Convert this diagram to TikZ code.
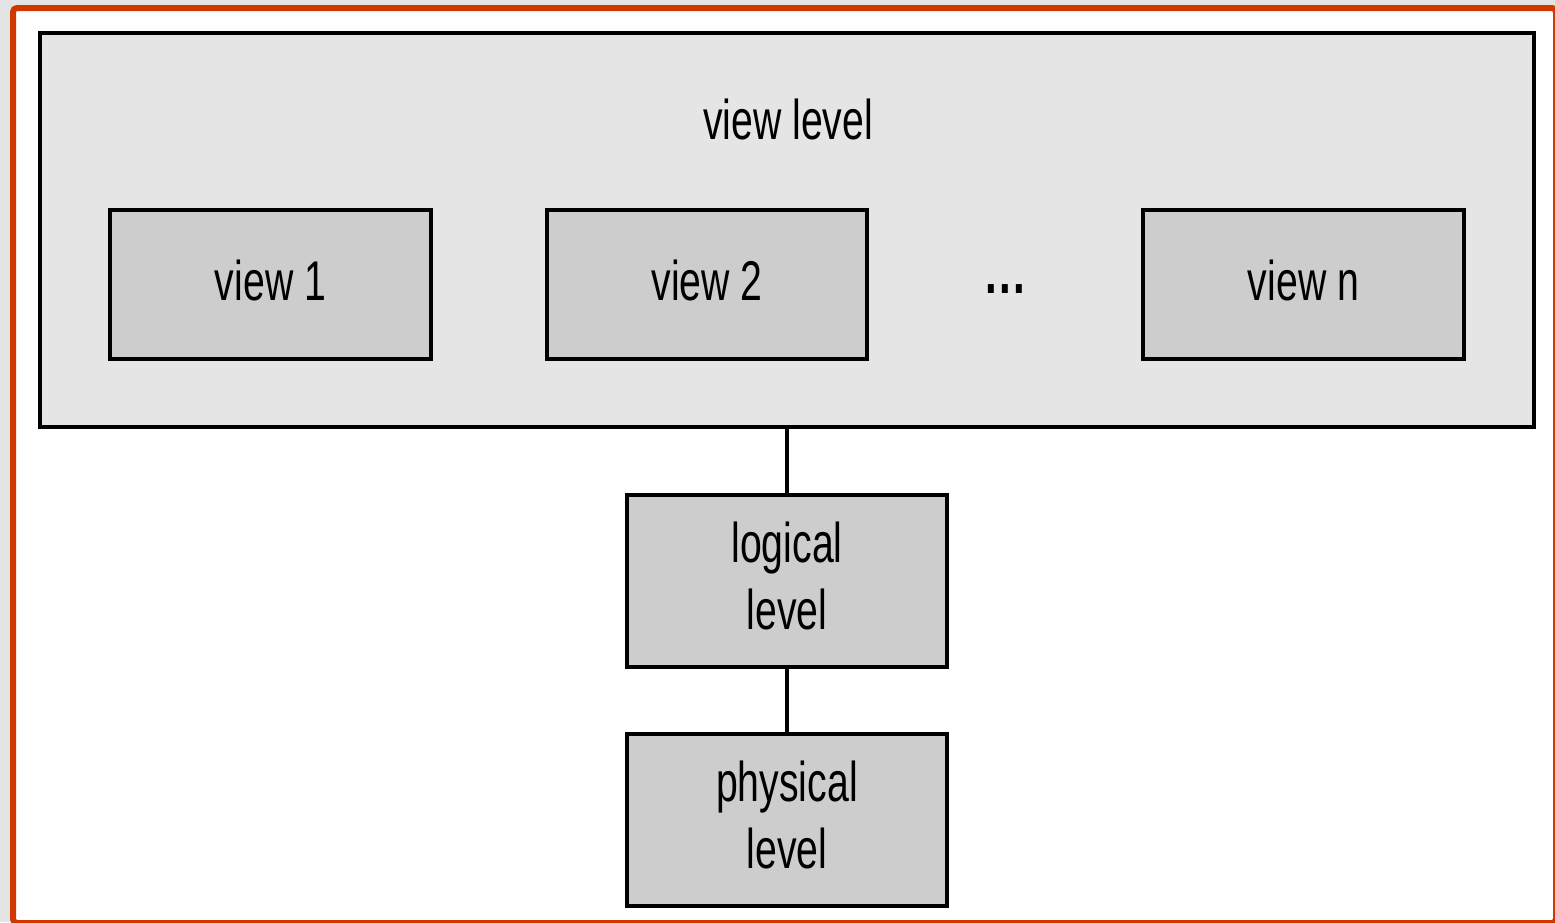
\documentclass[tikz,border=0pt]{standalone}
\usepackage{fontspec}
\newfontfamily\condfont[FakeStretch=0.7]{Liberation Sans}
\definecolor{framec}{RGB}{208,56,0}
\definecolor{outbg}{RGB}{228,228,228}
\definecolor{levelbg}{RGB}{230,229,230}
\definecolor{boxbg}{RGB}{205,205,205}
\begin{document}
\begin{tikzpicture}[x=1pt,y=-1pt,
  lvlbox/.style={draw=black,line width=4pt,fill=boxbg,inner sep=0pt,
    font=\condfont\fontsize{56}{67}\selectfont,align=center},
  link/.style={draw=black,line width=4pt}]
\useasboundingbox (0,0) rectangle (1555,922);
\clip (0,0) rectangle (1555,922);
\fill[outbg] (0,0) rectangle (1555,922);
\draw[framec,fill=white,line width=6pt,rounded corners=4pt] (13,8) rectangle (1556,923);
% view level container
\node[draw=black,line width=4pt,fill=levelbg,minimum width=1494pt,minimum height=394pt,inner sep=0pt] (vl) at (787,230) {};
\node[font=\condfont\fontsize{56}{67}\selectfont,anchor=base,inner sep=0pt] (vltext) at (788,139) {view level};
\node[lvlbox,minimum width=321pt,minimum height=149pt,text depth=9pt] (v1) at (270.5,284.5) {view 1};
\node[lvlbox,minimum width=320pt,minimum height=149pt,text depth=9pt] (v2) at (707,284.5) {view 2};
\node[font=\condfont\bfseries\fontsize{60}{67}\selectfont,anchor=base,inner sep=0pt] (dots) at (1005,293) {.\hspace{2.5pt}.\hspace{2.5pt}.};
\node[lvlbox,minimum width=321pt,minimum height=149pt,text depth=9pt] (vn) at (1303.5,284.5) {view n};
\node[lvlbox,minimum width=320pt,minimum height=172pt,text depth=10pt] (log) at (787,581) {logical\\level};
\node[lvlbox,minimum width=320pt,minimum height=172pt,text depth=10pt] (phy) at (787,820) {physical\\level};
\draw[link] (vl.south) -- (log.north);
\draw[link] (log.south) -- (phy.north);
\end{tikzpicture}
\end{document}
